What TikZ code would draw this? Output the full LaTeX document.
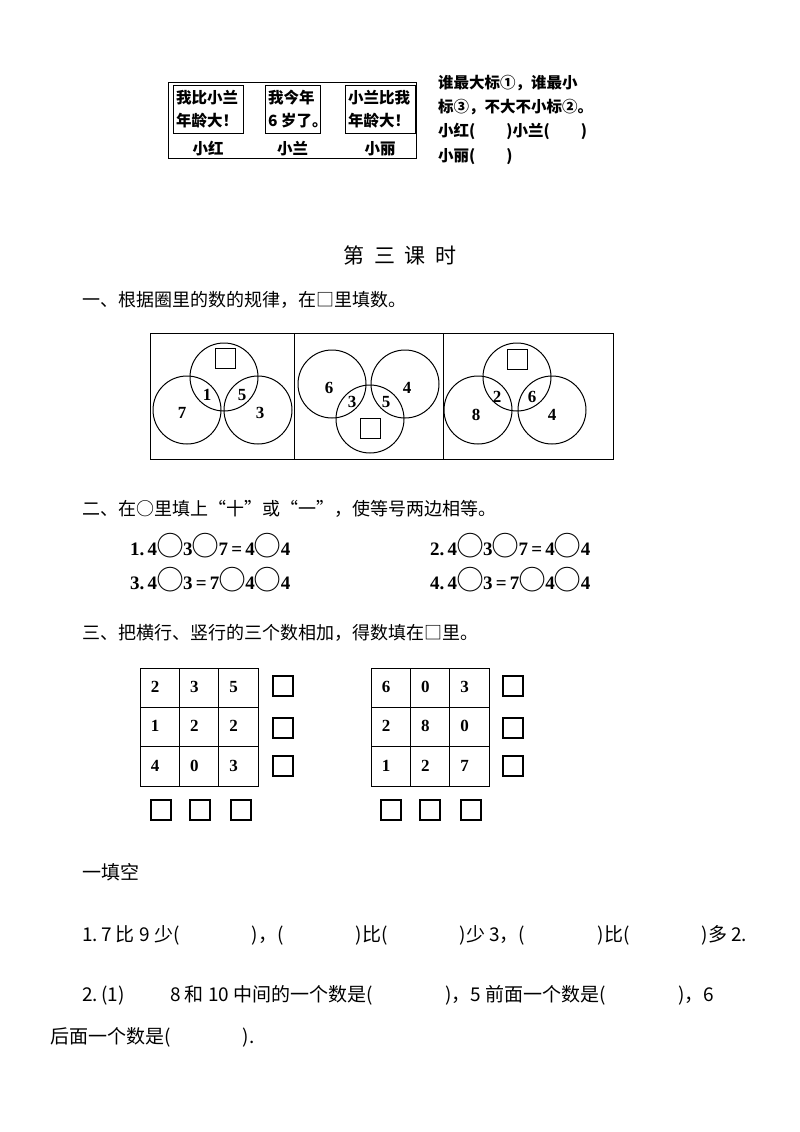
\documentclass[tikz,border=0pt]{standalone}
\usepackage{fontspec}
\setmainfont{Liberation Serif}
\newfontfamily\cjk{Noto Sans CJK SC}
\begin{document}
\begin{tikzpicture}[x=1pt,y=-1pt,
  lbl/.style={font=\cjk\fontsize{18}{22}\selectfont,inner sep=0pt},
  bl/.style={font=\cjk\fontsize{19}{22}\selectfont,inner sep=0pt,anchor=west},
  sm/.style={font=\cjk\bfseries\fontsize{15.5}{18}\selectfont,inner sep=0pt},
  num/.style={font=\bfseries\fontsize{17}{20}\selectfont,inner sep=0pt},
  eq/.style={font=\bfseries\fontsize{19}{22}\selectfont,inner sep=0pt,anchor=west},
  sq/.style={draw,line width=1.3pt,minimum size=20pt,inner sep=0pt},
  ln/.style={line width=1pt}]
\useasboundingbox (0,0) rectangle (800,1132);
% top box
\draw[ln] (168,82) rectangle (416,158);
\foreach \a/\b/\t/\u/\n/\m in {173/243/我比小兰/年龄大！/小红/k1,265/320/我今年/6 岁了。/小兰/k2,345/415/小兰比我/年龄大！/小丽/k3}{
  \draw[ln] (\a,85) rectangle (\b,133);
  \node[sm,anchor=west] at (\a+3,98) {\t};
  \node[sm,anchor=west] at (\a+3,121) {\u};
  \node[sm] (\m) at ({(\a+\b)/2},149) {\n};
}
\node[sm,anchor=west] (r1) at (438,83) {谁最大标①，谁最小};
\node[sm,anchor=west] (r2) at (438,107) {标③，不大不小标②。};
\node[sm,anchor=west] (r3) at (438,131) {小红(\hspace{2em})小兰(\hspace{2em})};
\node[sm,anchor=west] (r4) at (438,157) {小丽(\hspace{2em})};
% title
\node[lbl,font=\cjk\fontsize{21}{24}\selectfont] (title) at (400,255) {第\ \ 三\ \ 课\ \ 时};
\node[lbl,anchor=west] (s1) at (82,300) {一、根据圈里的数的规律，在□里填数。};
% circles panel
\draw[ln] (150,333) rectangle (613,459);
\draw[ln] (294,333) -- (294,459) (443,333) -- (443,459);
\foreach \x/\y in {187/410,224/377,258/410,332/384,405/384,370/419,478/410,517/377,552/410}
  \draw[ln] (\x,\y) circle (34);
\node[sq,line width=1pt] (q1) at (225,358) {};
\node[sq,line width=1pt] (q2) at (370,428) {};
\node[sq,line width=1pt] (q3) at (517,359) {};
\foreach \x/\y/\t in {182/413/7,207/395/1,242/395/5,260/413/3,329/388/6,407/388/4,352/402/3,386/402/5,476/415/8,497/397/2,532/397/6,552/415/4}
  \node[num] at (\x,\y) {\t};
\node[lbl,anchor=west] (s2) at (82,509) {二、在○里填上“十”或“一”，使等号两边相等。};
\newcommand\oc{{\cjk\fontsize{26}{26}\selectfont ◯}}
\node[eq] (e1) at (130,546) {1.\,4\oc3\oc7\,=\,4\oc4};
\node[eq] (e2) at (430,546) {2.\,4\oc3\oc7\,=\,4\oc4};
\node[eq] (e3) at (130,580) {3.\,4\oc3\,=\,7\oc4\oc4};
\node[eq] (e4) at (430,580) {4.\,4\oc3\,=\,7\oc4\oc4};
\node[lbl,anchor=west] (s3) at (82,633) {三、把横行、竖行的三个数相加，得数填在□里。};
% grids
\foreach \gx/\rx/\vals/\bx in {140/283/{2,3,5,1,2,2,4,0,3}/{161,200,241},371/513/{6,0,3,2,8,0,1,2,7}/{391,430,471}}{
  \draw[ln] (\gx,668) rectangle ++(118,118);
  \foreach \k in {1,2}{
    \draw[ln] ({\gx+\k*39.33},668) -- ++(0,118);
    \draw[ln] (\gx,{668+\k*39.33}) -- ++(118,0);}
  \foreach \v [count=\i from 0] in \vals {
    \pgfmathtruncatemacro\c{mod(\i,3)}\pgfmathtruncatemacro\r{div(\i,3)}
    \node[num] at ({\gx+15+\c*39.33},{687+\r*39.33}) {\v};}
  \foreach \yy in {686,728,766} \node[sq] at (\rx,\yy) {};
  \foreach \xx in \bx \node[sq] at (\xx,810) {};
}
\node[bl] (b0) at (82,872) {一填空};
\node[bl] (b1) at (82,935) {1.\,7 比 9 少(\hspace{3.8em})，(\hspace{3.8em})比(\hspace{3.8em})少 3，(\hspace{3.8em})比(\hspace{3.8em})多 2.};
\node[bl] (b2) at (82,995) {2.\,(1)\hspace{2.4em}8 和 10 中间的一个数是(\hspace{3.8em})，5 前面一个数是(\hspace{3.8em})，6};
\node[bl] (b3) at (50,1037) {后面一个数是(\hspace{3.8em}).};
\end{tikzpicture}
\end{document}
